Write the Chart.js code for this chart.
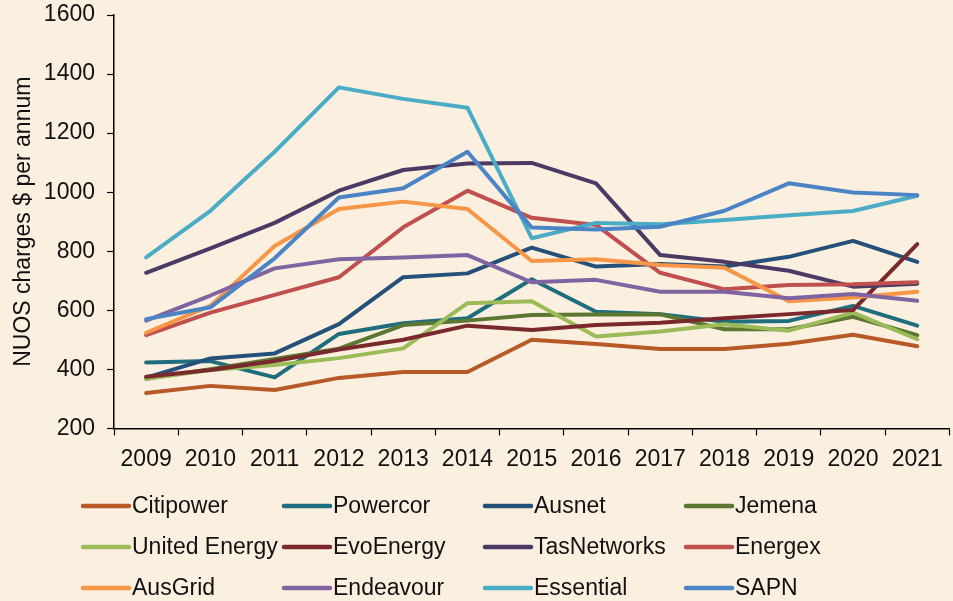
<!DOCTYPE html>
<html>
<head>
<meta charset="utf-8">
<script src="https://cdn.jsdelivr.net/npm/chart.js@4/dist/chart.umd.min.js"></script>
<style>
  html, body { margin: 0; padding: 0; background: #fbefdf; }
  #wrap { position: relative; width: 953px; height: 601px; }
</style>
</head>
<body>
<div id="wrap"><canvas id="nuosChart"></canvas></div>
<script>
// Data
const years = ['2009', '2010', '2011', '2012', '2013', '2014', '2015', '2016', '2017', '2018', '2019', '2020', '2021'];
const yTicks = [200, 400, 600, 800, 1000, 1200, 1400, 1600];

const citipower = [320, 344, 330, 371, 391, 391, 500, 486, 469, 469, 487, 517, 478];
const powercor = [423, 428, 373, 520, 556, 573, 705, 595, 587, 561, 564, 615, 548];
const ausnet = [372, 437, 454, 553, 712, 725, 812, 748, 757, 748, 781, 835, 764];
const jemena = [368, 400, 435, 470, 550, 565, 584, 586, 586, 536, 536, 578, 516];
const unitedEnergy = [368, 398, 415, 438, 471, 624, 631, 511, 528, 553, 531, 592, 502];
const evoEnergy = [375, 398, 428, 467, 500, 548, 533, 550, 558, 573, 587, 601, 824];
const tasNetworks = [727, 810, 896, 1005, 1075, 1097, 1099, 1030, 787, 764, 734, 680, 690];
const energex = [516, 592, 652, 712, 881, 1005, 913, 889, 727, 671, 686, 688, 695];
const ausGrid = [524, 615, 818, 943, 968, 943, 767, 773, 753, 744, 631, 643, 663];
const endeavour = [565, 650, 742, 773, 779, 787, 695, 703, 663, 663, 641, 655, 632];
const essential = [779, 937, 1137, 1355, 1316, 1286, 844, 896, 891, 906, 922, 936, 988];
const sapn = [570, 610, 776, 982, 1013, 1137, 880, 874, 883, 937, 1030, 999, 990];

const FONT = "'Liberation Sans', Arial, Helvetica, sans-serif";
const BG = '#fbefdf';

const series = [
    ['Citipower', citipower, '#b85a27'],
    ['Powercor', powercor, '#1f6e7e'],
    ['Ausnet', ausnet, '#24507a'],
    ['Jemena', jemena, '#5c7731'],
    ['United Energy', unitedEnergy, '#9bbb59'],
    ['EvoEnergy', evoEnergy, '#79292c'],
    ['TasNetworks', tasNetworks, '#4b3a63'],
    ['Energex', energex, '#c0504d'],
    ['AusGrid', ausGrid, '#f79646'],
    ['Endeavour', endeavour, '#8064a2'],
    ['Essential', essential, '#4bacc6'],
    ['SAPN', sapn, '#4a84c4']
];

// background + 4 column legend drawn on the canvas
const bgPlugin = {
    id: 'bg',
    beforeDraw(chart) {
        const ctx = chart.ctx;
        ctx.save();
        ctx.fillStyle = BG;
        ctx.fillRect(0, 0, chart.width, chart.height);
        ctx.restore();
    }
};

const gridLegend = {
    id: 'gridLegend',
    afterDraw(chart) {
        const ctx = chart.ctx;
        ctx.save();
        ctx.font = '23px ' + FONT;
        ctx.textBaseline = 'middle';
        ctx.textAlign = 'left';
        chart.data.datasets.forEach(function(ds, i) {
            const col = i % 4;
            const row = Math.floor(i / 4);
            const x = 83 + col * 201;
            const y = 506 + row * 41;
            ctx.strokeStyle = ds.borderColor;
            ctx.lineWidth = 4.5;
            ctx.lineCap = 'round';
            ctx.beginPath();
            ctx.moveTo(x, y);
            ctx.lineTo(x + 46, y);
            ctx.stroke();
            ctx.fillStyle = '#111';
            ctx.fillText(ds.label, x + 49, y + 1);
        });
        ctx.restore();
    }
};

document.addEventListener('DOMContentLoaded', function() {
    const ctx = document.getElementById('nuosChart').getContext('2d');

    new Chart(ctx, {
        type: 'line',
        data: {
            labels: years,
            datasets: series.map(function(s, i) {
                return {
                    label: s[0],
                    data: s[1],
                    borderColor: s[2],
                    backgroundColor: s[2],
                    borderWidth: 4,
                    borderJoinStyle: 'round',
                    borderCapStyle: 'round',
                    pointRadius: 0,
                    tension: 0,
                    fill: false,
                    order: -i // later series on top, like the original
                };
            })
        },
        options: {
            responsive: true,
            maintainAspectRatio: false,
            animation: false,
            layout: {
                padding: { top: 15, right: 3, bottom: 118, left: 0 }
            },
            scales: {
                x: {
                    offset: true,
                    grid: {
                        offset: true,
                        drawOnChartArea: false,
                        drawTicks: true,
                        tickLength: 7,
                        tickColor: '#000',
                        tickWidth: 1.2
                    },
                    border: { display: true, color: '#000', width: 1.5 },
                    ticks: {
                        color: '#111',
                        padding: 10,
                        maxRotation: 0,
                        autoSkip: false,
                        font: { family: FONT, size: 23 }
                    }
                },
                y: {
                    min: 200,
                    max: 1600,
                    afterBuildTicks: function(scale) {
                        scale.ticks = yTicks.map(function(v) { return { value: v }; });
                    },
                    afterFit: function(scale) {
                        scale.width = 114;
                        // let the plot top sit right at the layout padding
                        scale.paddingTop = 0;
                        scale.paddingBottom = 0;
                    },
                    grid: {
                        drawOnChartArea: false,
                        drawTicks: true,
                        tickLength: 7,
                        tickColor: '#000',
                        tickWidth: 1.2
                    },
                    border: { display: true, color: '#000', width: 1.5 },
                    ticks: {
                        color: '#111',
                        padding: 12,
                        font: { family: FONT, size: 23 },
                        callback: function(value) {
                            return String(value);
                        }
                    },
                    title: {
                        display: true,
                        text: 'NUOS charges $ per annum',
                        color: '#111',
                        padding: { top: 10, bottom: 0 },
                        font: { family: FONT, size: 23 }
                    }
                }
            },
            plugins: {
                legend: { display: false },
                tooltip: { enabled: false }
            }
        },
        plugins: [bgPlugin, gridLegend]
    });
});
</script>
</body>
</html>
